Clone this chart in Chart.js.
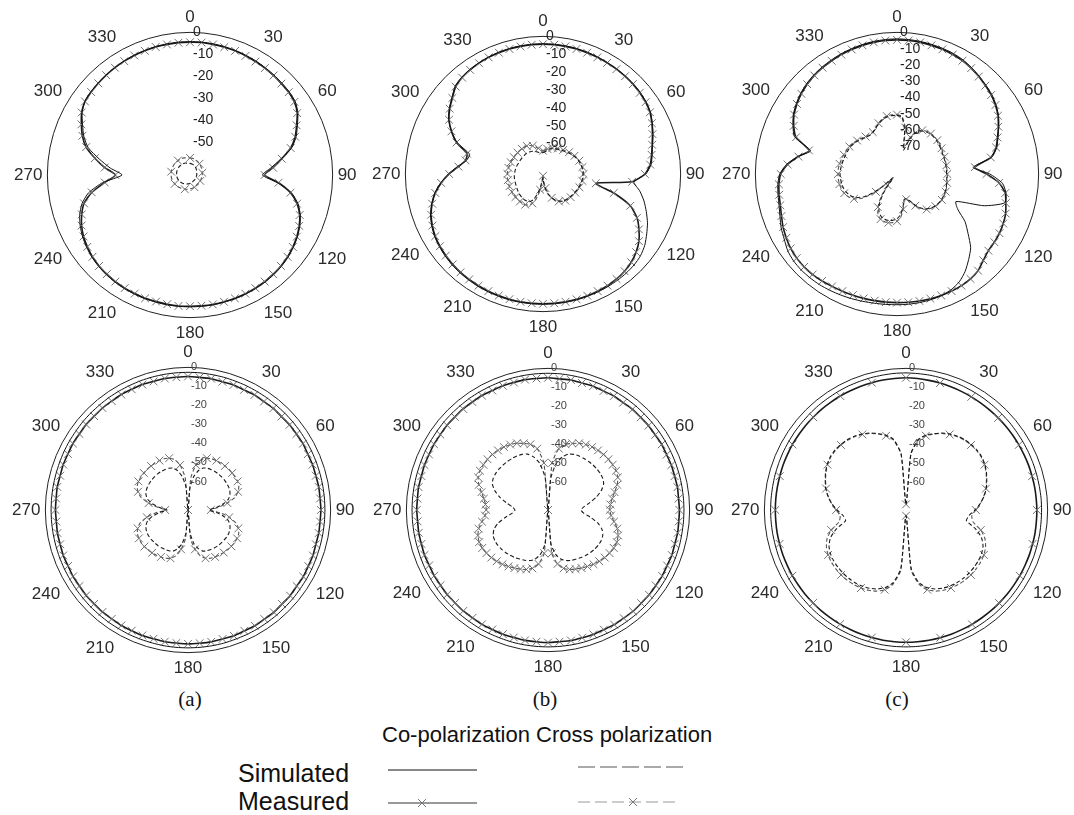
<!DOCTYPE html>
<html>
<head>
<meta charset="utf-8">
<script src="https://cdn.jsdelivr.net/npm/chart.js@4.4.0/dist/chart.umd.min.js"></script>
<style>
  body { margin: 0; width: 1074px; height: 815px; overflow: hidden; position: relative; background: #fff;
         font-family: "Liberation Sans", Arial, sans-serif; color: #111; }
  canvas { position: absolute; }
  .cap { position: absolute; font-family: "Liberation Serif", "Times New Roman", serif; font-size: 21px; line-height: 1; width: 60px; text-align: center; }
  .lg { position: absolute; line-height: 1; white-space: nowrap; }
  svg { position: absolute; left: 0; top: 0; }
</style>
</head>
<body>
<canvas id="pA1" width="352" height="352" style="left:10px;top:-1px"></canvas>
<canvas id="pB1" width="342" height="342" style="left:368px;top:3px"></canvas>
<canvas id="pC1" width="350" height="350" style="left:718px;top:-1px"></canvas>
<canvas id="pA2" width="352" height="352" style="left:8px;top:334px"></canvas>
<canvas id="pB2" width="350" height="350" style="left:369px;top:335px"></canvas>
<canvas id="pC2" width="350" height="350" style="left:727px;top:335px"></canvas>

<div class="cap" style="left:160px;top:689px">(a)</div>
<div class="cap" style="left:515px;top:689px">(b)</div>
<div class="cap" style="left:867px;top:689px">(c)</div>

<div class="lg" style="left:382px;top:724px;font-size:22px">Co-polarization Cross polarization</div>
<div class="lg" style="left:238px;top:761px;font-size:25px">Simulated</div>
<div class="lg" style="left:238px;top:789px;font-size:25px">Measured</div>
<svg width="1074" height="815">
  <line x1="388" y1="770" x2="477" y2="770" stroke="#111" stroke-width="1"/>
  <line x1="578" y1="767" x2="686" y2="767" stroke="#555" stroke-width="1.2" stroke-dasharray="17,5"/>
  <line x1="388" y1="803" x2="477" y2="803" stroke="#333" stroke-width="1"/>
  <path d="M418 799 L426 807 M426 799 L418 807" stroke="#777" stroke-width="1"/>
  <line x1="578" y1="802" x2="680" y2="802" stroke="#999" stroke-width="1.2" stroke-dasharray="12,5"/>
  <path d="M629 798 L637 806 M637 798 L629 806" stroke="#777" stroke-width="1"/>
</svg>

<script>
// angle categories (degrees, clockwise from top)
const angles = [0,5,10,15,20,25,30,35,40,45,50,55,60,65,70,75,80,85,90,95,100,105,110,115,
  120,125,130,135,140,145,150,155,160,165,170,175,180,185,190,195,200,205,210,215,220,225,230,235,
  240,245,250,255,260,265,270,275,280,285,290,295,300,305,310,315,320,325,330,335,340,345,350,355];

// radial tick labels (dB)
const ticksA1 = [0,-10,-20,-30,-40,-50];
const ticksB1 = [0,-10,-20,-30,-40,-50,-60];
const ticksC1 = [0,-10,-20,-30,-40,-50,-60,-70];
const ticksLow = [0,-10,-20,-30,-40,-50,-60];

// ---- (a) top ----
const a1CoSim = [-4.2,-4.2,-4.3,-4.4,-4.6,-4.8,-5.0,-5.3,-5.5,-5.8,-6.0,-6.5,
  -8.2,-11,-13.5,-17,-23,-28,-32,-25,-18,-14,-11.5,-9.8,
  -8.5,-7.5,-6.7,-6.1,-5.7,-5.4,-5.2,-5.1,-5.0,-5.0,-4.9,-4.9,
  -4.9,-4.9,-4.9,-5.0,-5.0,-5.1,-5.2,-5.4,-5.7,-6.1,-6.7,-7.5,
  -8.5,-9.8,-11.5,-14,-18,-25,-34,-28.5,-23,-17,-13.5,-11,
  -8.2,-6.5,-6.0,-5.8,-5.5,-5.3,-5.0,-4.8,-4.6,-4.4,-4.3,-4.2];
const a1CoMeas = [-4.5,-4.4,-4.6,-4.7,-4.8,-5.1,-5.3,-5.5,-5.8,-6.1,-6.3,-6.9,
  -8.6,-11.4,-14,-17.5,-22.5,-27,-31,-24.5,-18.5,-14.5,-11.8,-10.1,
  -8.8,-7.8,-7.0,-6.4,-6.0,-5.7,-5.5,-5.3,-5.2,-5.2,-5.1,-5.2,
  -5.2,-5.1,-5.2,-5.3,-5.2,-5.4,-5.5,-5.7,-6.0,-6.4,-7.0,-7.9,
  -9.0,-10.5,-12.5,-15,-19.5,-26,-31,-26,-21,-16,-12.8,-10.4,
  -8.0,-6.6,-6.2,-5.9,-5.6,-5.3,-5.1,-4.9,-4.8,-4.6,-4.6,-4.5];
const a1XSim = [-59.7,-59.8,-59.9,-60.0,-60.2,-60.3,-60.5,-60.6,-60.8,-61.0,-61.2,-61.3,
  -61.4,-61.5,-61.7,-61.8,-61.9,-61.9,-61.9,-62.0,-62.0,-62.1,-62.1,-62.1,
  -62.1,-62.1,-62.0,-62.0,-62.0,-61.9,-61.9,-61.8,-61.6,-61.5,-61.4,-61.3,
  -61.2,-61.0,-60.9,-60.8,-60.6,-60.5,-60.4,-60.2,-60.0,-59.9,-59.7,-59.6,
  -59.5,-59.3,-59.2,-59.1,-59.0,-58.9,-58.9,-58.9,-58.8,-58.8,-58.8,-58.8,
  -58.8,-58.8,-58.8,-58.9,-58.9,-59.0,-59.0,-59.1,-59.2,-59.4,-59.5,-59.6];
const a1XMeas = [-57.2,-57.3,-57.3,-57.5,-57.6,-57.8,-58.0,-58.1,-58.3,-58.5,-58.6,-58.8,
  -58.9,-59.0,-59.2,-59.3,-59.3,-59.4,-59.4,-59.5,-59.5,-59.6,-59.6,-59.6,
  -59.6,-59.6,-59.5,-59.5,-59.4,-59.4,-59.3,-59.2,-59.1,-59.0,-58.9,-58.8,
  -58.7,-58.5,-58.4,-58.3,-58.1,-58.0,-57.9,-57.7,-57.5,-57.4,-57.2,-57.1,
  -57.0,-56.8,-56.7,-56.6,-56.5,-56.4,-56.4,-56.4,-56.3,-56.3,-56.3,-56.3,
  -56.3,-56.3,-56.3,-56.4,-56.4,-56.5,-56.5,-56.6,-56.7,-56.9,-57.0,-57.1];

// ---- (b) top ----
const b1CoSim = [-4.1,-4.1,-4.2,-4.3,-4.5,-4.7,-5.0,-5.2,-5.4,-5.6,-6.0,-6.6,
  -7.6,-9.5,-11.5,-13.5,-15,-16.3,-19.5,-26,-22,-18.5,-15.5,-12.5,
  -10,-7.5,-5.8,-5.0,-4.6,-4.4,-4.3,-4.2,-4.2,-4.1,-4.1,-4.1,
  -4.1,-4.1,-4.1,-4.1,-4.2,-4.3,-4.4,-4.6,-4.8,-5.1,-5.6,-6.2,
  -7.0,-8.3,-10,-12.5,-15.5,-19.5,-24,-29,-33.5,-34.5,-26,-20.5,
  -16,-13,-10.5,-7.5,-6.3,-5.6,-5.2,-4.8,-4.5,-4.3,-4.2,-4.1];
const b1CoMeas = [-4.4,-4.4,-4.5,-4.6,-4.8,-5.0,-5.2,-5.4,-5.6,-5.9,-6.3,-6.9,
  -7.9,-9.8,-11.8,-13.8,-15.3,-16.8,-20,-27,-47,-36,-25,-19,
  -15,-11.5,-9,-7.2,-6.0,-5.3,-4.9,-4.7,-4.5,-4.4,-4.4,-4.4,
  -4.4,-4.4,-4.4,-4.5,-4.6,-4.7,-4.8,-5.0,-5.2,-5.5,-6.0,-6.6,
  -7.4,-8.7,-10.4,-12.8,-15.8,-19.8,-24.5,-29.5,-33,-33,-25.5,-20.5,
  -16.3,-13.3,-10.8,-7.9,-6.6,-5.9,-5.4,-5.0,-4.8,-4.6,-4.5,-4.4];
const b1XSim = [-65,-64.5,-63.5,-62.5,-62,-61.5,-61,-60.5,-60,-59.3,-58.5,-57.8,
  -57,-56.3,-55.7,-55.2,-54.9,-54.7,-54.6,-54.7,-54.9,-55.2,-55.6,-56,
  -56.4,-56.8,-57.1,-57.4,-57.9,-58.6,-59.6,-61,-62.8,-65,-68,-71.5,
  -75,-75,-71,-66,-62,-60,-59.4,-59.2,-59.3,-59.5,-59.7,-60,
  -60.3,-60.5,-60.7,-60.8,-60.8,-60.9,-61,-61.2,-61.4,-61.6,-61.8,-62,
  -62.1,-62.2,-62.2,-62.2,-62.2,-62.3,-62.6,-63,-63.6,-64.2,-64.8,-65.2];
const b1XMeas = [-64,-63.5,-62.8,-62,-61.5,-61,-60.5,-60,-59.4,-58.8,-58,-57.3,
  -56.6,-56,-55.4,-55,-54.6,-54.4,-54.3,-54.4,-54.6,-54.9,-55.3,-55.7,
  -56.1,-56.5,-56.8,-57.1,-57.6,-58.3,-59.3,-60.8,-62.8,-65.5,-69,-73,
  -76,-74,-68,-63,-59.5,-57.8,-57.2,-57,-56.9,-56.9,-56.9,-56.9,
  -56.9,-56.9,-57,-57,-57,-57,-57.1,-57.2,-57.4,-57.6,-57.8,-58,
  -58.2,-58.3,-58.4,-58.5,-58.6,-58.7,-58.9,-59.4,-60.2,-61.3,-62.4,-63.3];

// ---- (c) top ----
const c1CoSim = [-4.0,-4.1,-4.3,-4.6,-4.9,-5.3,-6.0,-7.2,-8.5,-9.8,-11,-12.8,
  -15,-18,-21,-23.5,-28,-40,-30,-22,-19,-18.5,-30,-47,
  -44,-36,-30,-23,-18.5,-14,-10.5,-8.5,-7.5,-7.0,-6.8,-6.7,
  -6.7,-6.6,-6.4,-6.0,-5.5,-5.0,-4.5,-4.0,-3.8,-3.7,-4.0,-5.0,
  -7.0,-8.5,-10.5,-12,-12.8,-13.5,-15,-19,-25,-32,-20,-16.5,
  -13.5,-11.5,-9.8,-8.5,-7.5,-6.8,-6.2,-5.6,-5.1,-4.7,-4.3,-4.1];
const c1CoMeas = [-4.6,-4.7,-4.9,-5.2,-5.5,-6.0,-6.6,-7.6,-8.9,-10.2,-11.5,-13.2,
  -15.4,-18.3,-21.3,-24,-28.5,-39,-32,-24,-19.5,-17.8,-16,-15,
  -14.3,-14,-13.7,-12,-9.5,-8.3,-7.8,-7.6,-7.6,-7.7,-7.8,-7.9,
  -8.0,-8.0,-8.0,-7.9,-7.8,-7.6,-7.3,-6.8,-6.4,-6.3,-6.6,-7.3,
  -8.5,-9.8,-11.5,-12.8,-13.5,-14.2,-15.6,-19.5,-25.5,-31,-21,-17,
  -14,-12,-10.3,-9,-8,-7.3,-6.7,-6.1,-5.6,-5.2,-4.9,-4.7];
const c1XSim = [-51,-52,-60,-72,-64,-58.5,-56.5,-55.5,-55,-55,-55.2,-55.5,
  -56,-56.3,-56.5,-56.5,-56.5,-56.5,-56.5,-56.3,-56,-55.7,-55.5,-55.4,
  -55.5,-55.8,-56.5,-57.5,-59,-61.5,-65,-69,-71,-70.5,-66,-62,
  -59.5,-58.5,-58,-58.2,-59,-61,-65,-72,-80,-84,-72,-63,
  -58,-55.5,-54,-53,-52.5,-52.2,-52,-52.2,-52.6,-53,-53.3,-53.6,
  -53.8,-54.5,-55.5,-56.5,-57.5,-58,-57.5,-56,-54.2,-52.5,-51.4,-51];
const c1XMeas = [-50.5,-51.5,-58,-70,-63,-58,-56,-55,-54.6,-54.5,-54.7,-55,
  -55.4,-55.8,-56,-56.2,-56.2,-56.2,-56.1,-56,-55.8,-55.5,-55.2,-55.1,
  -55.2,-55.5,-56.2,-57.2,-58.6,-61,-64.5,-68.5,-70.5,-70,-65,-60.5,
  -58,-57,-56.6,-56.8,-57.5,-59.5,-63.5,-70,-78,-82,-70,-61,
  -56.5,-54,-52.5,-51.6,-51.1,-50.8,-50.7,-50.8,-51.2,-51.7,-52.2,-52.7,
  -53.2,-54,-55,-56,-57,-57.5,-57.3,-55.8,-53.8,-52,-50.9,-50.5];

// ---- (a) bottom ----
const a2CoSim = [-2.6,-2.6,-2.7,-2.7,-2.8,-2.8,-2.9,-2.9,-3.0,-3.0,-3.0,-3.0,
  -3.0,-3.0,-3.0,-3.0,-3.0,-3.0,-3.0,-3.0,-3.0,-3.0,-3.0,-2.9,
  -2.9,-2.9,-2.8,-2.8,-2.7,-2.7,-2.6,-2.6,-2.6,-2.5,-2.5,-2.5,
  -2.5,-2.5,-2.5,-2.6,-2.6,-2.6,-2.7,-2.7,-2.8,-2.8,-2.9,-2.9,
  -3.0,-3.0,-3.0,-3.0,-3.0,-3.0,-3.0,-3.0,-3.0,-3.0,-3.0,-2.9,
  -2.9,-2.9,-2.8,-2.8,-2.8,-2.7,-2.7,-2.7,-2.6,-2.6,-2.6,-2.6];
const a2CoMeas = [-4.8,-5.0,-4.9,-5.2,-5.0,-5.3,-5.1,-5.4,-5.2,-5.5,-5.3,-5.4,
  -5.2,-5.5,-5.3,-5.4,-5.2,-5.3,-5.1,-5.3,-5.2,-5.4,-5.1,-5.2,
  -5.0,-5.2,-4.9,-5.1,-4.8,-5.0,-4.7,-4.9,-4.6,-4.8,-4.6,-4.7,
  -4.6,-4.8,-4.7,-4.9,-4.8,-5.0,-4.9,-5.1,-5.0,-5.2,-5.1,-5.3,
  -5.2,-5.4,-5.2,-5.4,-5.3,-5.5,-5.3,-5.4,-5.2,-5.4,-5.2,-5.3,
  -5.1,-5.3,-5.1,-5.2,-5.0,-5.1,-4.9,-5.0,-4.8,-5.0,-4.8,-4.9];
const a2XSim = [-75,-63,-57,-53.5,-51.5,-50.8,-50.5,-50.3,-50.2,-50.2,-50.2,-50.3,
  -50.4,-50.8,-51.5,-53,-56,-60,-64,-60,-56,-53,-51.5,-50.7,
  -50.3,-50.2,-50.3,-50.4,-50.5,-50.7,-51,-51.4,-52,-54,-57,-63,
  -75,-63,-57,-54,-52,-51.4,-51,-50.7,-50.5,-50.4,-50.3,-50.2,
  -50.3,-50.7,-51.5,-53,-56,-60,-64,-60,-56,-53,-51.5,-50.8,
  -50.4,-50.3,-50.2,-50.2,-50.2,-50.3,-50.5,-50.8,-51.5,-53.5,-57,-63];
const a2XMeas = [-75,-58,-51,-47.5,-46,-45.3,-45,-44.9,-44.8,-44.7,-44.7,-44.8,
  -44.9,-45.5,-47,-49.5,-54,-59,-63,-58,-53,-49,-46.8,-45.6,
  -45.2,-45.1,-45.3,-45.5,-45.8,-46.1,-46.5,-47,-48,-50,-54,-60,
  -75,-60,-54,-50,-48,-47,-46.5,-46,-45.6,-45.3,-45.1,-45,
  -45.2,-45.6,-46.8,-49,-53,-58,-63,-59,-54,-49.5,-47,-45.5,
  -44.9,-44.8,-44.7,-44.7,-44.8,-44.9,-45,-45.3,-46,-47.5,-51,-58];

// ---- (b) bottom ----
const b2CoSim = [-2.6,-2.6,-2.7,-2.7,-2.8,-2.8,-2.9,-2.9,-2.9,-3.0,-3.0,-3.0,
  -3.0,-3.0,-3.0,-3.0,-3.0,-3.0,-3.0,-3.0,-3.0,-2.9,-2.9,-2.9,
  -2.8,-2.8,-2.8,-2.7,-2.7,-2.7,-2.6,-2.6,-2.6,-2.5,-2.5,-2.5,
  -2.5,-2.5,-2.5,-2.5,-2.6,-2.6,-2.6,-2.7,-2.7,-2.8,-2.8,-2.9,
  -2.9,-2.9,-3.0,-3.0,-3.0,-3.0,-3.0,-3.0,-3.0,-3.0,-3.0,-2.9,
  -2.9,-2.9,-2.8,-2.8,-2.8,-2.7,-2.7,-2.7,-2.6,-2.6,-2.6,-2.6];
const b2CoMeas = [-5.0,-5.3,-5.1,-5.4,-5.2,-5.5,-5.3,-5.6,-5.4,-5.6,-5.5,-5.7,
  -5.5,-5.7,-5.5,-5.6,-5.4,-5.6,-5.4,-5.5,-5.3,-5.5,-5.2,-5.4,
  -5.2,-5.3,-5.1,-5.2,-5.0,-5.1,-4.9,-5.1,-4.9,-5.0,-4.8,-5.0,
  -4.8,-5.0,-4.9,-5.1,-5.0,-5.2,-5.1,-5.3,-5.2,-5.4,-5.3,-5.5,
  -5.4,-5.6,-5.4,-5.6,-5.5,-5.7,-5.5,-5.6,-5.4,-5.6,-5.4,-5.5,
  -5.3,-5.4,-5.2,-5.3,-5.1,-5.2,-5.0,-5.2,-5.0,-5.1,-4.9,-5.1];
const b2XSim = [-75,-58,-50,-46,-43.5,-42.5,-42,-41.7,-41.5,-41.3,-41.2,-41.2,
  -41.5,-42.5,-45,-48.5,-52.5,-56,-57.5,-56,-52,-47.5,-44.5,-43,
  -42.5,-42.5,-42.8,-43.2,-43.7,-44.3,-45,-45.6,-46.5,-48,-51,-57,
  -75,-57,-51,-48,-46.5,-45.6,-45,-44.3,-43.7,-43.2,-42.8,-42.5,
  -42.5,-43,-44.5,-47.5,-52,-56,-57.5,-56,-52.5,-48.5,-45,-42.5,
  -41.5,-41.2,-41.2,-41.3,-41.5,-41.7,-42,-42.5,-43.5,-46,-50,-58];
const b2XMeas = [-75,-50,-42,-39,-37.5,-36,-35,-34.3,-33.8,-33.4,-33.2,-33.2,
  -33.4,-34.2,-36,-38.5,-40.5,-41.8,-42.3,-41.5,-39.5,-37,-35.5,-34.8,
  -34.8,-35.2,-35.8,-36.6,-37.5,-38.5,-39.5,-40.5,-41.5,-43,-46,-52,
  -75,-52,-46,-43,-41.5,-40.5,-39.5,-38.5,-37.5,-36.6,-35.8,-35.2,
  -34.8,-34.8,-35.5,-37,-39.5,-41.5,-42.3,-41.8,-40.5,-38.5,-36,-34.2,
  -33.4,-33.2,-33.2,-33.4,-33.8,-34.3,-35,-36,-37.5,-39,-42,-50];

// ---- (c) bottom ----
const c2CoSim = [-2.4,-2.5,-2.5,-2.6,-2.7,-2.8,-2.9,-3.0,-3.1,-3.2,-3.2,-3.3,
  -3.3,-3.3,-3.3,-3.3,-3.3,-3.2,-3.2,-3.2,-3.1,-3.1,-3.0,-3.0,
  -2.9,-2.9,-2.8,-2.8,-2.7,-2.7,-2.6,-2.6,-2.6,-2.5,-2.5,-2.5,
  -2.5,-2.5,-2.5,-2.6,-2.6,-2.7,-2.7,-2.8,-2.8,-2.9,-3.0,-3.0,
  -3.1,-3.2,-3.2,-3.3,-3.3,-3.3,-3.3,-3.3,-3.3,-3.2,-3.2,-3.1,
  -3.1,-3.0,-3.0,-2.9,-2.8,-2.8,-2.7,-2.6,-2.6,-2.5,-2.5,-2.4];
const c2CoMeas = [-5.0,-5.1,-5.3,-5.4,-5.6,-5.7,-5.8,-5.9,-6.0,-6.0,-6.0,-6.0,
  -6.0,-6.0,-5.9,-5.9,-5.8,-5.8,-5.7,-5.7,-5.6,-5.6,-5.5,-5.5,
  -5.4,-5.4,-5.3,-5.3,-5.2,-5.2,-5.1,-5.1,-5.0,-5.0,-5.0,-5.0,
  -5.0,-5.0,-5.0,-5.1,-5.1,-5.2,-5.2,-5.3,-5.3,-5.4,-5.4,-5.5,
  -5.5,-5.6,-5.6,-5.7,-5.7,-5.8,-5.8,-5.8,-5.8,-5.8,-5.7,-5.7,
  -5.6,-5.6,-5.5,-5.5,-5.4,-5.4,-5.3,-5.3,-5.2,-5.2,-5.1,-5.1];
const c2XSim = [-72,-45,-37,-34,-32,-30,-28.5,-27.3,-26.5,-26,-25.8,-26,
  -26.8,-28,-29.5,-31,-33,-35.5,-38.5,-41.5,-42.5,-37,-32.5,-30,
  -28.8,-28.2,-27.9,-27.8,-27.8,-28,-28.5,-29.3,-30.5,-32.5,-36,-44,
  -72,-44,-36,-32.5,-30.5,-29.3,-28.5,-28,-27.8,-27.8,-27.9,-28.2,
  -28.8,-30,-32.5,-37,-42.5,-41.5,-38.5,-35.5,-33,-31,-29.5,-28,
  -26.8,-26,-25.8,-26,-26.5,-27.3,-28.5,-30,-32,-34,-37,-45];
const c2XMeas = [-72,-45.5,-37.5,-34.3,-32.2,-30.3,-28.8,-27.6,-26.8,-26.3,-26.1,-26.3,
  -27,-28.2,-29.7,-31.2,-33.2,-35.5,-38,-40,-39,-34,-30.5,-28.5,
  -27.4,-26.8,-26.5,-26.4,-26.5,-26.8,-27.3,-28.1,-29.3,-31.3,-35,-43,
  -72,-43,-35,-31.3,-29.3,-28.1,-27.3,-26.8,-26.5,-26.4,-26.5,-26.8,
  -27.4,-28.5,-30.5,-34,-39,-40,-38,-35.5,-33.2,-31.2,-29.7,-28.2,
  -27,-26.3,-26.1,-26.3,-26.8,-27.6,-28.8,-30.3,-32.2,-34.3,-37.5,-45.5];

// draws the dB labels up the 0-degree axis, positioned by the radial scale
const dbTicks = {
  id: 'dbTicks',
  afterDraw(chart, args, opts) {
    const s = chart.scales.r, ctx = chart.ctx;
    ctx.save();
    ctx.font = opts.font;
    ctx.fillStyle = opts.color;
    ctx.textAlign = 'left';
    ctx.textBaseline = 'middle';
    opts.values.forEach(v => {
      const d = s.getDistanceFromCenterForValue(v);
      ctx.fillText(String(v), s.xCenter + 3, s.yCenter - d);
    });
    ctx.restore();
  }
};

function marks(step) {
  return c => (c.dataIndex % step === 0 ? 5.5 : 0);
}

function panel(id, min, tickVals, tickFont, tickColor, co, coM, x, xM, stepCo, stepX) {
  new Chart(document.getElementById(id), {
    type: 'radar',
    data: {
      labels: angles,
      datasets: [
        { data: co, borderColor: '#111', borderWidth: 1, pointRadius: 0 },
        { data: coM, borderColor: '#1a1a1a', borderWidth: 1.6, pointStyle: 'crossRot',
          pointRadius: marks(stepCo), pointBorderColor: '#6f6f6f', pointBackgroundColor: '#6f6f6f', pointBorderWidth: 1 },
        { data: x, borderColor: '#1a1a1a', borderWidth: 1.1, borderDash: [4, 2.5], pointRadius: 0 },
        { data: xM, borderColor: '#555', borderWidth: 1.1, borderDash: [4, 2.5], pointStyle: 'crossRot',
          pointRadius: marks(stepX), pointBorderColor: '#6f6f6f', pointBackgroundColor: '#6f6f6f', pointBorderWidth: 1 }
      ]
    },
    options: {
      responsive: false,
      animation: false,
      events: [],
      elements: { line: { tension: 0.2, fill: false } },
      plugins: {
        legend: { display: false },
        tooltip: { enabled: false },
        dbTicks: { values: tickVals, font: tickFont, color: tickColor }
      },
      scales: {
        r: {
          min: min, max: 0,
          startAngle: 0,
          angleLines: { display: false },
          grid: { circular: true, lineWidth: 1, color: c => (c.tick && c.tick.value === 0 ? '#222' : 'rgba(0,0,0,0)') },
          ticks: { display: false, stepSize: 10 },
          pointLabels: {
            display: true, padding: 5, color: '#2b2b2b',
            font: { family: '"Liberation Sans", Arial, sans-serif', size: 17 },
            callback: v => (v % 30 === 0 ? String(v) : '')
          }
        }
      }
    },
    plugins: [dbTicks]
  });
}

const fTop = '14px "Liberation Sans", Arial, sans-serif';
const fLow = '11px "Liberation Sans", Arial, sans-serif';
panel('pA1', -65, ticksA1, fTop, '#222', a1CoSim, a1CoMeas, a1XSim, a1XMeas, 1, 8);
panel('pB1', -77, ticksB1, fTop, '#222', b1CoSim, b1CoMeas, b1XSim, b1XMeas, 1, 2);
panel('pC1', -87, ticksC1, fTop, '#222', c1CoSim, c1CoMeas, c1XSim, c1XMeas, 1, 2);
panel('pA2', -75, ticksLow, fLow, '#444', a2CoSim, a2CoMeas, a2XSim, a2XMeas, 1, 2);
panel('pB2', -75, ticksLow, fLow, '#444', b2CoSim, b2CoMeas, b2XSim, b2XMeas, 1, 1);
panel('pC2', -75, ticksLow, fLow, '#444', c2CoSim, c2CoMeas, c2XSim, c2XMeas, 3, 3);
</script>
</body>
</html>
